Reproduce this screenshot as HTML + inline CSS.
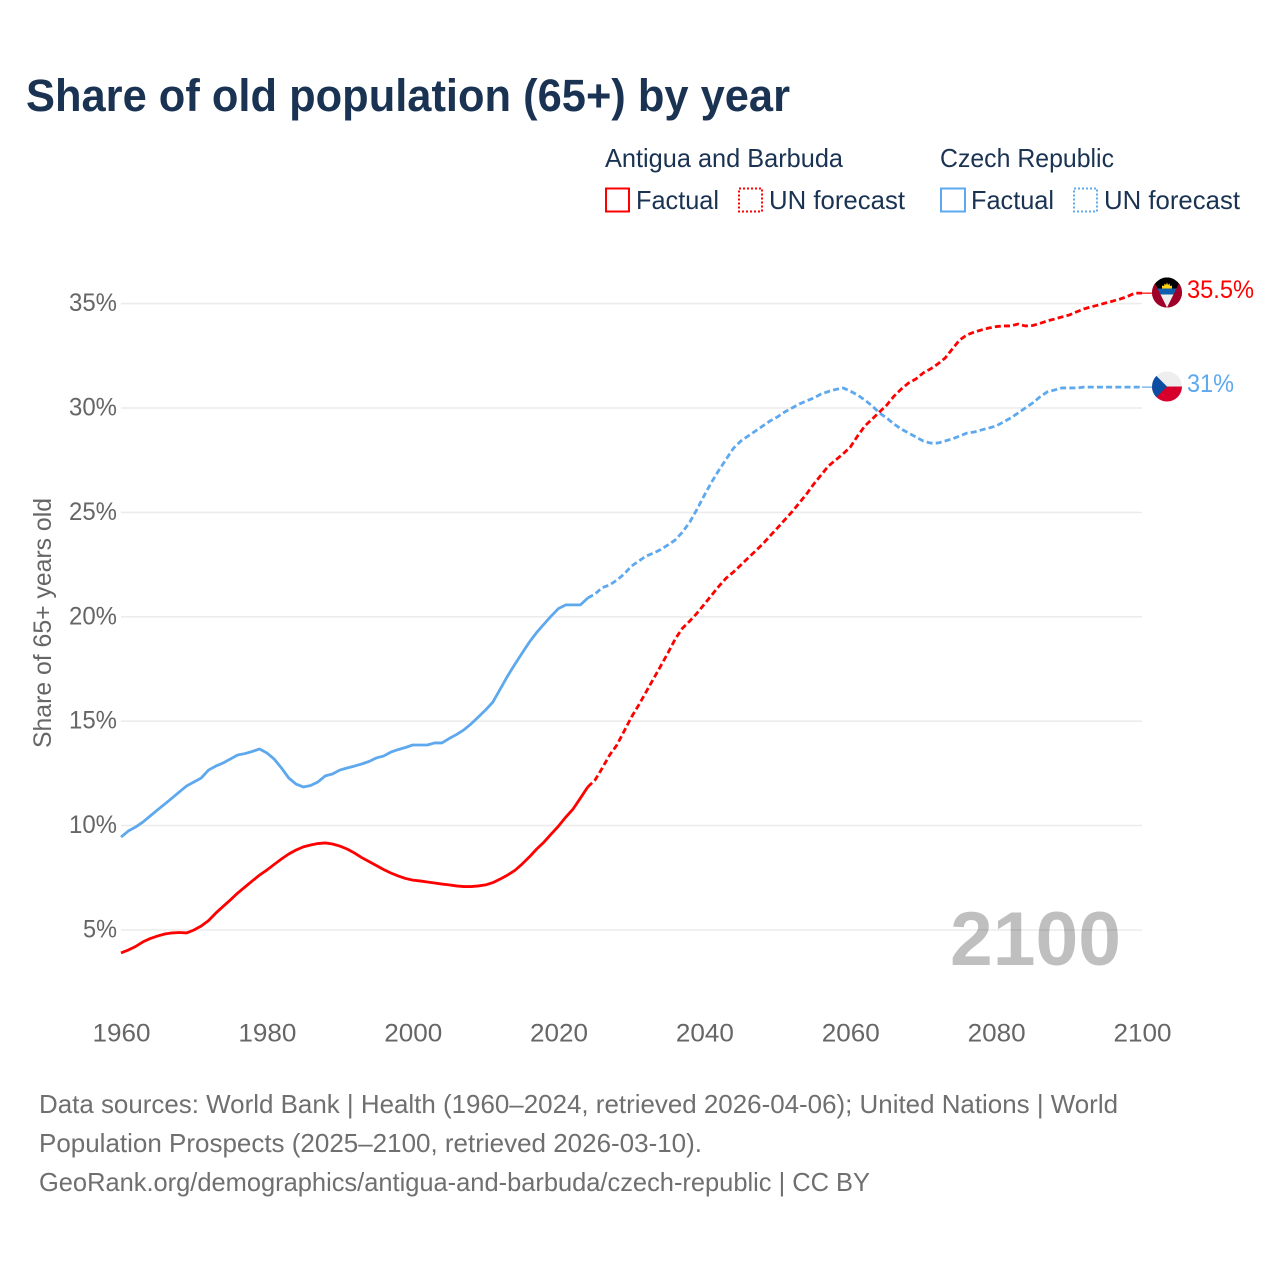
<!DOCTYPE html>
<html lang="en">
<head>
<meta charset="utf-8">
<title>Share of old population (65+) by year</title>
<style>
html,body{margin:0;padding:0;background:#fff;}
svg{display:block;font-family:"Liberation Sans",sans-serif;}
</style>
</head>
<body>
<svg id="chart" xmlns="http://www.w3.org/2000/svg" width="1280" height="1280" viewBox="0 0 1280 1280">
  <defs>
    <clipPath id="flag-clip"><circle cx="0" cy="0" r="15"/></clipPath>
  </defs>
  <rect width="1280" height="1280" fill="#fff"/>
  <text x="26" y="111" font-size="45" font-weight="700" fill="#1a3353" textLength="764" lengthAdjust="spacingAndGlyphs">Share of old population (65+) by year</text>

  <g font-size="26" fill="#1a3353">
    <text x="605" y="167" textLength="238" lengthAdjust="spacingAndGlyphs">Antigua and Barbuda</text>
    <text x="940" y="167" textLength="174" lengthAdjust="spacingAndGlyphs">Czech Republic</text>
    <rect x="606" y="188.5" width="23" height="23" fill="none" stroke="#ff0000" stroke-width="2"/>
    <text x="636" y="209" textLength="83" lengthAdjust="spacingAndGlyphs">Factual</text>
    <rect x="739" y="188.5" width="23" height="23" fill="none" stroke="#ff0000" stroke-width="2" stroke-dasharray="2 2"/>
    <text x="769" y="209" textLength="136" lengthAdjust="spacingAndGlyphs">UN forecast</text>
    <rect x="941" y="188.5" width="24" height="23" fill="none" stroke="#5ea8ee" stroke-width="2"/>
    <text x="971" y="209" textLength="83" lengthAdjust="spacingAndGlyphs">Factual</text>
    <rect x="1074" y="188.5" width="23" height="23" fill="none" stroke="#5ea8ee" stroke-width="2" stroke-dasharray="2 2"/>
    <text x="1104" y="209" textLength="136" lengthAdjust="spacingAndGlyphs">UN forecast</text>
  </g>

  <g id="grid"></g>
  <text id="year-watermark" x="950" y="965" font-size="76" font-weight="700" fill="#000" fill-opacity="0.25" textLength="171" lengthAdjust="spacingAndGlyphs">2100</text>
  <g id="y-axis" font-size="25" fill="#666"></g>
  <g id="x-axis" font-size="25" fill="#666"></g>
  <text transform="translate(51 748) rotate(-90)" font-size="25" fill="#666" textLength="250" lengthAdjust="spacingAndGlyphs">Share of 65+ years old</text>
  <g id="series" fill="none" stroke-linejoin="round"></g>

  <g id="flag-antigua" clip-path="url(#flag-clip)">
    <rect x="-15" y="-15" width="30" height="30" fill="#a00028"/>
    <path d="M-15 -15H15L0 15Z" fill="#fff"/>
    <path d="M-10 -15H10L0 -6Z" fill="#000"/>
    <path d="M-15 -15H15V-4H-15Z" fill="#000"/>
    <path d="M-5 -4 L-5 -7 L-3 -6.5 L-2.5 -9 L-1 -7.5 L0 -10 L1 -7.5 L2.5 -9 L3 -6.5 L5 -7 L5 -4Z" fill="#fcd116"/>
    <path d="M-9.5 -4H9.5L7 2H-7Z" fill="#0d5eaf"/>
    <path d="M-7 2H7L0 15Z" fill="#eeeeee"/>
    <path d="M-15 -15L-9.5 -4L0 15H-15Z" fill="#a00028"/>
    <path d="M15 -15L9.5 -4L0 15H15Z" fill="#a00028"/>
  </g>
  <g id="flag-czech" clip-path="url(#flag-clip)">
    <rect x="-15" y="-15" width="30" height="15" fill="#eeeeee"/>
    <rect x="-15" y="0" width="30" height="15" fill="#d7002a"/>
    <path d="M-15 -15L0 0L-15 15Z" fill="#0b4ea2"/>
  </g>
  <g id="end-labels" font-size="25"></g>

  <g font-size="26" fill="#6f6f6f">
    <text x="39" y="1113" textLength="1079" lengthAdjust="spacingAndGlyphs">Data sources: World Bank | Health (1960–2024, retrieved 2026-04-06); United Nations | World</text>
    <text x="39" y="1152" textLength="663" lengthAdjust="spacingAndGlyphs">Population Prospects (2025–2100, retrieved 2026-03-10).</text>
    <text x="39" y="1191" textLength="831" lengthAdjust="spacingAndGlyphs">GeoRank.org/demographics/antigua-and-barbuda/czech-republic | CC BY</text>
  </g>
</svg>

<script>
const xTickLabels = [1960, 1980, 2000, 2020, 2040, 2060, 2080, 2100];
const yTickValues = [5, 10, 15, 20, 25, 30, 35];
const factualStartYear = 1960;
const forecastStartYear = 2024;

const antiguaFactual = [
  3.9, 4.04, 4.21, 4.43, 4.59, 4.71, 4.81, 4.86, 4.88, 4.86,
  5, 5.19, 5.45, 5.81, 6.13, 6.44, 6.77, 7.06, 7.35, 7.63,
  7.87, 8.14, 8.4, 8.64, 8.83, 8.98, 9.07, 9.14, 9.17, 9.12,
  9.02, 8.88, 8.69, 8.47, 8.28, 8.09, 7.9, 7.73, 7.59, 7.47,
  7.39, 7.35, 7.3, 7.25, 7.2, 7.16, 7.11, 7.08, 7.08, 7.11,
  7.16, 7.27, 7.44, 7.63, 7.85, 8.16, 8.5, 8.88, 9.21, 9.6,
  9.98, 10.41, 10.8, 11.32, 11.85
];
const antiguaForecast = [
  11.85, 12.18, 12.76, 13.38, 13.86, 14.53, 15.2, 15.78, 16.4, 17.02, 17.64,
  18.27, 18.94, 19.46, 19.8, 20.18, 20.61, 21.04, 21.47, 21.86, 22.15,
  22.48, 22.82, 23.15, 23.49, 23.87, 24.25, 24.64, 25.02, 25.45, 25.88,
  26.36, 26.79, 27.22, 27.51, 27.8, 28.13, 28.66, 29.14, 29.47, 29.81,
  30.14, 30.57, 30.91, 31.2, 31.39, 31.68, 31.87, 32.11, 32.39, 32.83,
  33.26, 33.5, 33.64, 33.74, 33.83, 33.9, 33.93, 33.93, 34.02, 33.93,
  33.95, 34.05, 34.17, 34.26, 34.36, 34.45, 34.6, 34.74, 34.84, 34.93,
  35.03, 35.12, 35.22, 35.34, 35.5, 35.5
];
const czechFactual = [
  9.45, 9.74, 9.93, 10.17, 10.46, 10.75, 11.03, 11.32, 11.61, 11.9,
  12.09, 12.28, 12.66, 12.85, 13, 13.19, 13.38, 13.45, 13.55, 13.67,
  13.48, 13.19, 12.76, 12.28, 11.99, 11.85, 11.92, 12.09, 12.38, 12.47,
  12.66, 12.76, 12.85, 12.95, 13.07, 13.24, 13.33, 13.52, 13.64, 13.74,
  13.86, 13.86, 13.86, 13.96, 13.96, 14.17, 14.36, 14.58, 14.87, 15.2,
  15.54, 15.92, 16.54, 17.16, 17.72, 18.26, 18.79, 19.25, 19.65, 20.04,
  20.4, 20.57, 20.57, 20.57, 20.9
];
const czechForecast = [
  20.9, 21.09, 21.4, 21.52, 21.76, 22.05, 22.43, 22.67, 22.91, 23.05, 23.22,
  23.44, 23.68, 24.06, 24.54, 25.16, 25.83, 26.46, 27.03, 27.56, 28.08,
  28.42, 28.66, 28.9, 29.14, 29.38, 29.57, 29.81, 30, 30.19, 30.34,
  30.48, 30.67, 30.79, 30.89, 30.96, 30.81, 30.62, 30.38, 30.1, 29.76,
  29.52, 29.23, 28.99, 28.8, 28.61, 28.42, 28.32, 28.32, 28.42, 28.52,
  28.66, 28.8, 28.85, 28.95, 29.04, 29.14, 29.33, 29.52, 29.76, 30,
  30.24, 30.53, 30.77, 30.86, 30.96, 30.96, 30.96, 31, 31, 31,
  31, 31, 31, 31, 31, 31
];
const endLabels = ["35.5%", "31%"];

const SVG_NS = "http://www.w3.org/2000/svg";
const RED = "#ff0000";
const BLUE = "#5ea8ee";

function xScale(year) {
  return 121 + (year - 1960) * (1142 - 121) / 140;
}
function yScale(value) {
  return 930 - (value - 5) * 20.88;
}
function linePath(values, startYear) {
  return values.map(function (v, i) {
    return (i ? "L" : "M") + xScale(startYear + i).toFixed(2) + " " + yScale(v).toFixed(2);
  }).join("");
}

const gridGroup = document.getElementById("grid");
const yAxisGroup = document.getElementById("y-axis");
const xAxisGroup = document.getElementById("x-axis");
const seriesGroup = document.getElementById("series");
const labelGroup = document.getElementById("end-labels");

yTickValues.forEach(function (tick) {
  const line = document.createElementNS(SVG_NS, "line");
  
  
  line.setAttribute("x1", xScale(1960));
  line.setAttribute("x2", xScale(2100));
  line.setAttribute("y1", yScale(tick));
  line.setAttribute("y2", yScale(tick));
  line.setAttribute("stroke", "#ececec");
  line.setAttribute("stroke-width", "1.6");
  gridGroup.appendChild(line);

  const label = document.createElementNS(SVG_NS, "text");
  
  
  label.setAttribute("x", 117);
  label.setAttribute("y", yScale(tick) + 7.5);
  label.setAttribute("text-anchor", "end");
  label.setAttribute("textLength", tick === 5 ? 34 : 48);
  label.setAttribute("lengthAdjust", "spacingAndGlyphs");
  label.textContent = tick + "%";
  yAxisGroup.appendChild(label);
});

xTickLabels.forEach(function (year) {
  const label = document.createElementNS(SVG_NS, "text");
  
  
  label.setAttribute("x", xScale(year) + 0.5);
  label.setAttribute("y", 1041.5);
  label.setAttribute("text-anchor", "middle");
  label.setAttribute("textLength", 58);
  label.setAttribute("lengthAdjust", "spacingAndGlyphs");
  label.textContent = year;
  xAxisGroup.appendChild(label);
});

function drawLine(values, startYear, color, dashed, name) {
  const path = document.createElementNS(SVG_NS, "path");
  
  
  path.setAttribute("d", linePath(values, startYear));
  path.setAttribute("stroke", color);
  path.setAttribute("stroke-width", "2.8");
  if (dashed) path.setAttribute("stroke-dasharray", "6 3.2");
  seriesGroup.appendChild(path);
}
drawLine(czechFactual, factualStartYear, BLUE, false, "czech-factual-line");
drawLine(czechForecast, forecastStartYear, BLUE, true, "czech-forecast-line");
drawLine(antiguaFactual, factualStartYear, RED, false, "antigua-factual-line");
drawLine(antiguaForecast, forecastStartYear, RED, true, "antigua-forecast-line");

function drawEnd(value, text, color, flagId, name) {
  const y = yScale(value);
  const connector = document.createElementNS(SVG_NS, "line");
  
  
  connector.setAttribute("x1", xScale(2100));
  connector.setAttribute("x2", xScale(2100) + 11);
  connector.setAttribute("y1", y);
  connector.setAttribute("y2", y);
  connector.setAttribute("stroke", color);
  connector.setAttribute("stroke-width", "1.2");
  seriesGroup.appendChild(connector);

  document.getElementById(flagId).setAttribute("transform", "translate(1167 " + (y - 0.6).toFixed(2) + ")");

  const label = document.createElementNS(SVG_NS, "text");
  
  
  label.setAttribute("x", 1187);
  label.setAttribute("y", y + 5);
  label.setAttribute("fill", color);
  label.setAttribute("textLength", text.length > 3 ? 67 : 47);
  label.setAttribute("lengthAdjust", "spacingAndGlyphs");
  label.textContent = text;
  labelGroup.appendChild(label);
}
drawEnd(antiguaForecast[antiguaForecast.length - 1], endLabels[0], RED, "flag-antigua", "antigua");
drawEnd(czechForecast[czechForecast.length - 1], endLabels[1], BLUE, "flag-czech", "czech");
</script>
</body>
</html>
